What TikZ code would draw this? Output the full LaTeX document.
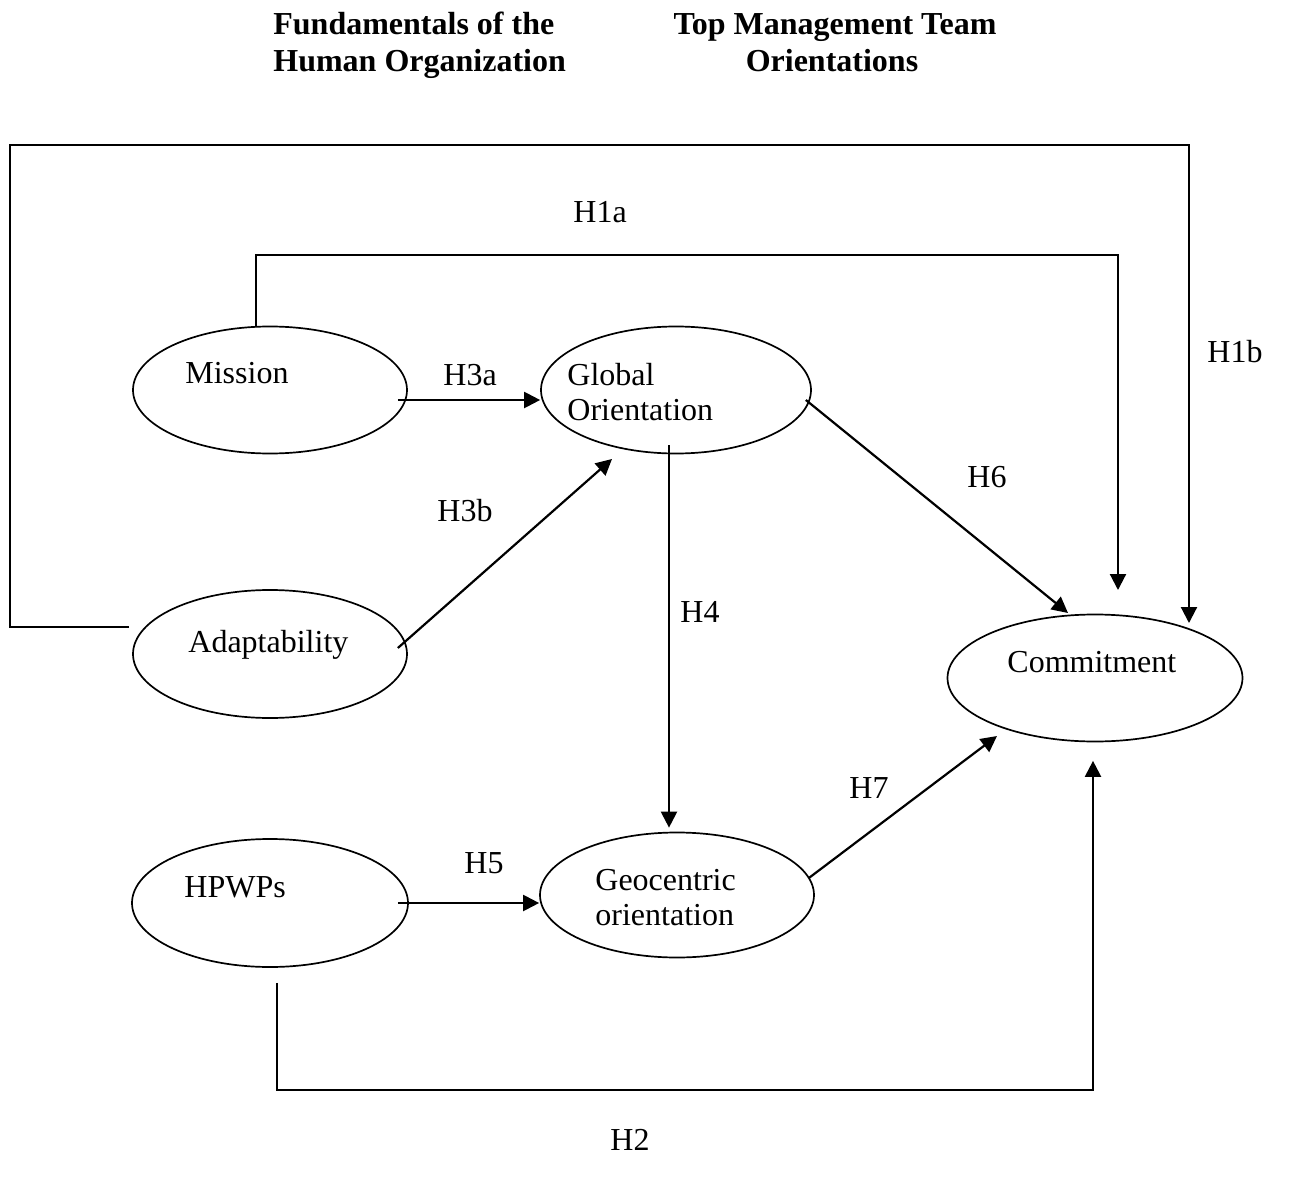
\documentclass[tikz,border=0pt]{standalone}
\usepackage{fontspec}
\setmainfont{Liberation Serif}
\usetikzlibrary{arrows.meta,shapes.geometric}
\begin{document}
\begin{tikzpicture}[x=0.5pt,y=-0.5pt,
  ell/.style={draw,ellipse,line width=0.85pt,inner sep=0pt},
  txt/.style={anchor=base west,inner sep=0pt,font=\fontsize{16}{17.5}\selectfont,align=left},
  lbl/.style={anchor=base west,inner sep=0pt,font=\fontsize{16}{18}\selectfont},
  ttl/.style={anchor=base west,inner sep=0pt,font=\fontsize{16}{18}\selectfont\bfseries},
  arr/.style={line width=1.1pt,-{Triangle[length=8pt,width=8pt]}}]
\useasboundingbox (0,0) rectangle (1302,1188);
% titles
\node[ttl] (t1a) at (273,35) {Fundamentals of the};
\node[ttl] (t1b) at (273,72) {Human Organization};
\node[ttl,anchor=base] (t2a) at (835,35) {Top Management Team};
\node[ttl,anchor=base] (t2b) at (832,72) {Orientations};
% ellipses
\node[ell,minimum width=137pt,minimum height=63.5pt] (mission) at (270,390) {};
\node[ell,minimum width=135pt,minimum height=63.5pt] (global) at (676,390) {};
\node[ell,minimum width=137pt,minimum height=64pt] (adapt) at (270,654) {};
\node[ell,minimum width=138pt,minimum height=64pt] (hpwps) at (270,903) {};
\node[ell,minimum width=137pt,minimum height=62.5pt] (geo) at (677,895) {};
\node[ell,minimum width=147.5pt,minimum height=63.5pt] (commit) at (1095,678) {};
% ellipse texts (base anchor of a two-line node is its last line)
\node[txt] (missiont) at (185,383) {Mission};
\node[txt] (globalt) at (567,420) {Global\\Orientation};
\node[txt] (adaptt) at (188,652) {Adaptability};
\node[txt] (hpwpst) at (184,897) {HPWPs};
\node[txt] (geot) at (595,925) {Geocentric\\orientation};
\node[txt] (committ) at (1007,672) {Commitment};
% labels
\node[lbl] (h1a) at (573,222) {H1a};
\node[lbl] (h1b) at (1207,362) {H1b};
\node[lbl] (h3a) at (443,385) {H3a};
\node[lbl] (h3b) at (437,521) {H3b};
\node[lbl] (h6) at (967,487) {H6};
\node[lbl] (h4) at (680,622) {H4};
\node[lbl] (h7) at (849,798) {H7};
\node[lbl] (h5) at (464,873) {H5};
\node[lbl] (h2) at (610,1150) {H2};
% free-end coordinates
\coordinate (h1acorner) at (1118,255);
\coordinate (h1aend) at (1118,590);
\coordinate (h1bleft) at (10,145);
\coordinate (h1bcorner) at (1189,145);
\coordinate (h1bend) at (1189,623);
\coordinate (h2corner) at (1093,1090);
% connectors
\draw[arr] ([shift={(-14,0)}]mission.north) |- (h1acorner) -- (h1aend);
\draw[arr] ([shift={(-3,-27)}]adapt.west) -| (h1bleft) -- (h1bcorner) -- (h1bend);
\draw[arr] ([shift={(-10,10)}]mission.east) -- ([shift={(0,10)}]global.west);
\draw[arr] ([shift={(-10,-6)}]adapt.east) -- ([shift={(-64,69)}]global.center);
\draw[arr] ([shift={(-6,10)}]global.east) -- ([shift={(-27,-65)}]commit.center);
\draw[arr] ([shift={(-7,55)}]global.center) -- ([shift={(-8,-4)}]geo.north);
\draw[arr] ([shift={(-6,-17)}]geo.east) -- ([shift={(-98,58)}]commit.center);
\draw[arr] ([shift={(-11,0)}]hpwps.east) -- ([shift={(0,8)}]geo.west);
\draw[arr] ([shift={(7,15)}]hpwps.south) |- (h2corner) -- ([shift={(-2,18.5)}]commit.south);
\end{tikzpicture}
\end{document}
